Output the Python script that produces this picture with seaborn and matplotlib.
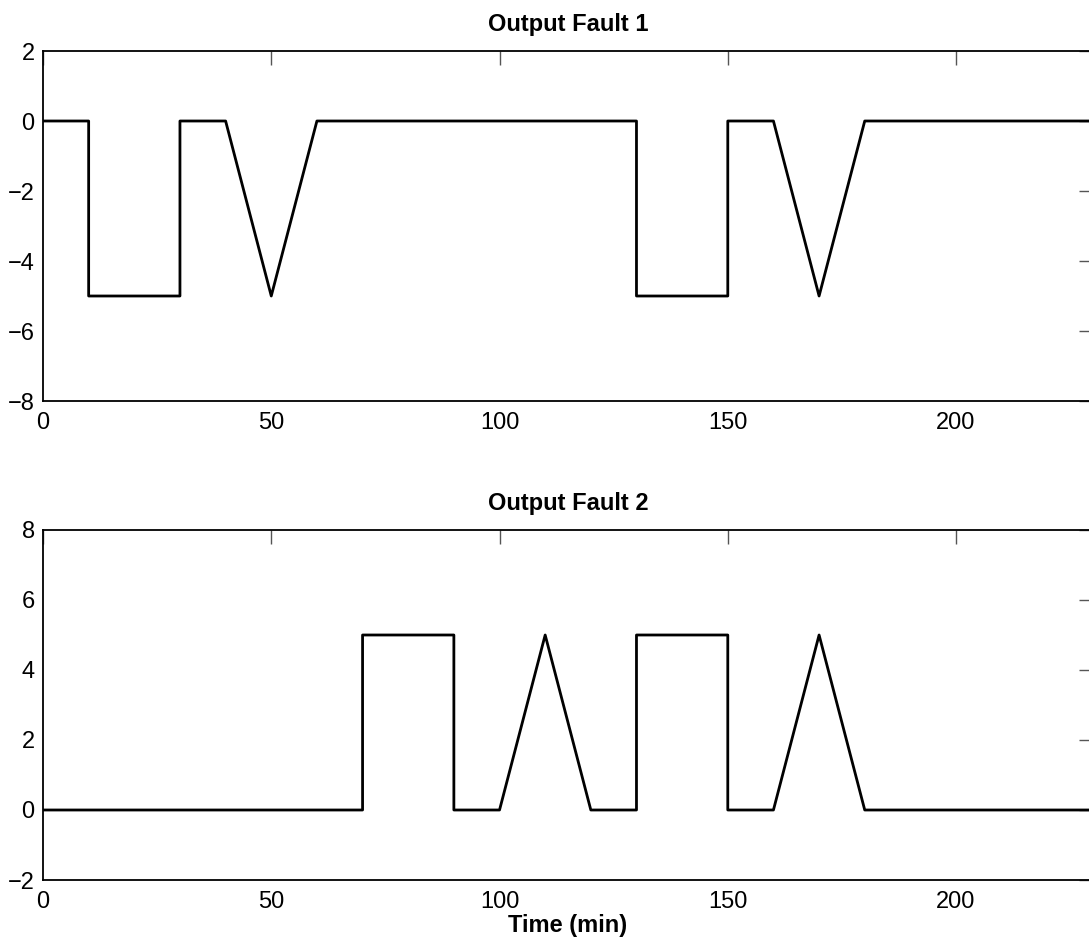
import matplotlib
matplotlib.use("Agg")
import matplotlib.pyplot as plt
import seaborn as sns
import pandas as pd

# Fault signals sampled in minutes; repeated times mark step changes
time_f1 = [0, 10, 10, 20, 30, 30, 40, 50, 60, 70, 80, 90, 100, 110, 120, 130, 130,
           140, 150, 150, 160, 170, 180, 190, 200, 210, 220, 230]
fault1 = [0, 0, -5, -5, -5, 0, 0, -5, 0, 0, 0, 0, 0, 0, 0, 0, -5,
          -5, -5, 0, 0, -5, 0, 0, 0, 0, 0, 0]

time_f2 = [0, 10, 20, 30, 40, 50, 60, 70, 70, 80, 90, 90, 100, 110, 120, 130, 130,
           140, 150, 150, 160, 170, 180, 190, 200, 210, 220, 230]
fault2 = [0, 0, 0, 0, 0, 0, 0, 0, 5, 5, 5, 0, 0, 5, 0, 0, 5,
          5, 5, 0, 0, 5, 0, 0, 0, 0, 0, 0]

titles = ["Output Fault 1", "Output Fault 2"]
ylims = [(-8, 2), (-2, 8)]
yticks = [[-8, -6, -4, -2, 0, 2], [-2, 0, 2, 4, 6, 8]]
xticks = [0, 50, 100, 150, 200]
xlabel = "Time (min)"

sns.set_style("white")
plt.rcParams["font.family"] = ["Liberation Sans", "DejaVu Sans"]
plt.rcParams["axes.unicode_minus"] = True
plt.rcParams["text.color"] = "black"
plt.rcParams["axes.labelcolor"] = "black"

W, H = 1089, 946
fig = plt.figure(figsize=(W / 100, H / 100), dpi=100)

# axes boxes in pixel units: left, top, right, bottom
boxes = [(43, 51, 1093, 401), (43, 530, 1093, 880)]

series = [(time_f1, fault1), (time_f2, fault2)]
for i, ((l, t, r, b), (tx, vy)) in enumerate(zip(boxes, series)):
    ax = fig.add_axes([l / W, 1 - b / H, (r - l) / W, (b - t) / H])
    df = pd.DataFrame({"t": tx, "v": vy})
    sns.lineplot(data=df, x="t", y="v", ax=ax, estimator=None, sort=False,
                 color="black", linewidth=2.0)
    ax.set_xlim(0, 230)
    ax.set_ylim(*ylims[i])
    ax.set_xticks(xticks)
    ax.set_yticks(yticks[i])
    ax.set_xticklabels([str(v) for v in xticks])
    ax.set_yticklabels([str(v).replace("-", "\u2212") for v in yticks[i]])
    ax.tick_params(direction="in", length=10, width=1.0, color="#555555",
                   top=True, right=True, labelsize=17, labelcolor="black")
    ax.tick_params(axis="x", pad=8)
    ax.tick_params(axis="y", pad=6)
    for s in ax.spines.values():
        s.set_visible(True)
        s.set_color("black")
        s.set_linewidth(1.3)
    ax.set_title(titles[i], fontsize=17, fontweight="bold", pad=14.5,
                 color="black")
    ax.set_ylabel("")
    ax.set_xlabel("")
    if i == 1:
        ax.set_xlabel(xlabel, fontsize=17, fontweight="bold", labelpad=0.5,
                      color="black")

fig.savefig("out.png", dpi=100, facecolor="white")
